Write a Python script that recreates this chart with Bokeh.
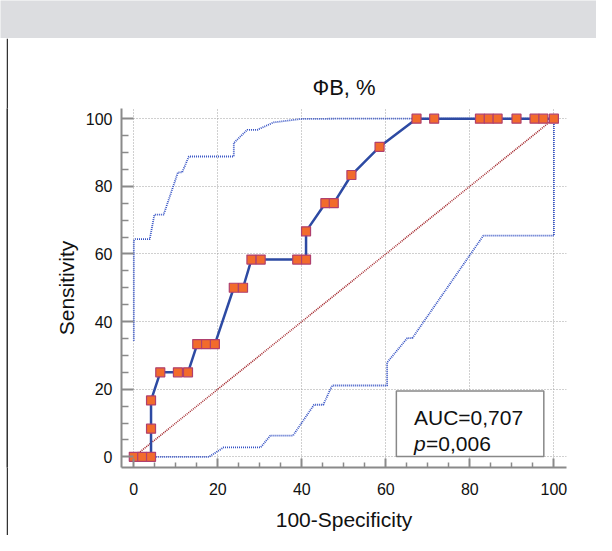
from bokeh.plotting import figure
from bokeh.layouts import row, column
from bokeh.models import Range1d, FixedTicker, Spacer
from bokeh.core.properties import value
from bokeh.embed import file_html
from bokeh.resources import INLINE

# ---------------- data ----------------
title_text = "ФВ, %"
x_label = "100-Specificity"
y_label = "Sensitivity"
major_ticks = [0, 20, 40, 60, 80, 100]
minor_ticks = [5, 10, 15, 25, 30, 35, 45, 50, 55, 65, 70, 75, 85, 90, 95]

roc_x = [0, 2.0, 4.1, 4.1, 4.1, 6.3, 10.5, 12.9, 15.1, 17.2, 19.3, 23.8, 26.0,
         28.0, 30.2, 38.9, 41.0, 41.0, 45.6, 47.6, 51.8, 58.5, 67.3, 71.5,
         82.4, 84.5, 86.6, 91.1, 95.4, 97.5, 100]
roc_y = [0, 0, 0, 8.33, 16.67, 25, 25, 25, 33.33, 33.33, 33.33, 50, 50,
         58.33, 58.33, 58.33, 58.33, 66.67, 75, 75, 83.33, 91.67, 100, 100,
         100, 100, 100, 100, 100, 100, 100]

upper_x = [0, 0, 0.4, 3.8, 4.9, 7.1, 10.5, 11.5, 13.1, 23.8, 23.8, 27.0, 29.4,
           33.3, 39.7, 50, 100]
upper_y = [34.3, 63.9, 64.4, 64.4, 71.6, 71.6, 84.1, 84.1, 88.8, 88.8, 92.8,
           96.7, 96.7, 98.9, 99.9, 100, 100]

lower_x = [0, 17.9, 21.4, 30.2, 32.5, 37.9, 42.9, 45.1, 47.2, 60.3, 60.3,
           65.1, 66.3, 83.2, 100, 100]
lower_y = [0, 0, 2.8, 2.8, 6.3, 6.3, 15.4, 15.4, 21.1, 21.1, 27.9, 35.1,
           35.1, 65.4, 65.4, 100]

diag_x = [0, 100]
diag_y = [0, 100]

auc_text = "AUC=0,707"
p_label = "p"
p_value = "=0,006"

FONT = "Liberation Sans"

# ---------------- main chart ----------------
p = figure(width=588, height=497,
           x_range=Range1d(-2.93, 103.0), y_range=Range1d(-3.15, 103.0),
           min_border_left=113, min_border_right=30,
           min_border_top=70, min_border_bottom=68,
           toolbar_location=None, output_backend="svg",
           outline_line_color=None, title=title_text)

p.title.text_font = FONT
p.title.text_font_size = "22px"
p.title.text_font_style = "normal"
p.title.align = "center"
p.title.offset = 4
p.title.standoff = 18
p.title.text_color = "#111111"

for ax in (p.xaxis[0], p.yaxis[0]):
    ax.ticker = FixedTicker(ticks=major_ticks, minor_ticks=minor_ticks)
    ax.axis_line_color = "#8a8a8a"
    ax.axis_line_width = 2
    ax.major_tick_line_color = "#8a8a8a"
    ax.major_tick_line_width = 2
    ax.minor_tick_line_color = "#8a8a8a"
    ax.minor_tick_line_width = 1.5
    ax.major_label_text_font = FONT
    ax.major_label_text_font_size = "16px"
    ax.major_label_text_color = "#111111"
    ax.axis_label_text_font = FONT
    ax.axis_label_text_font_size = "21px"
    ax.axis_label_text_font_style = "normal"
    ax.axis_label_text_color = "#111111"

p.xaxis.axis_label = x_label
p.yaxis.axis_label = y_label
p.xaxis.major_tick_in = 9
p.xaxis.major_tick_out = 0
p.xaxis.minor_tick_in = 5
p.xaxis.minor_tick_out = 0
p.yaxis.major_tick_in = 12
p.yaxis.major_tick_out = 0
p.yaxis.minor_tick_in = 7
p.yaxis.minor_tick_out = 0
p.xaxis.major_label_standoff = 15
p.xaxis.axis_label_standoff = 10
p.yaxis.major_label_standoff = 9
p.yaxis.axis_label_standoff = 5

p.grid.grid_line_color = "#a0a0a0"
p.grid.grid_line_dash = "1 2"
p.grid.grid_line_width = 1

# diagonal reference line
p.line(diag_x, diag_y, line_color="#a3262b", line_width=1.6, line_dash="1 1")
# confidence bounds
p.line(upper_x, upper_y, line_color="#3552c4", line_width=1.8, line_dash="1 1")
p.line(lower_x, lower_y, line_color="#3552c4", line_width=1.8, line_dash="1 1")
# ROC curve
p.line(roc_x, roc_y, line_color="#2d4aa3", line_width=2.5)
p.scatter(roc_x, roc_y, marker="square", size=9, fill_color="#f26b2c",
          line_color="#b0406e", line_width=1.2)

# AUC box
p.quad(left=[62.5], right=[97.6], bottom=[0.1], top=[19.5],
       fill_color="white", line_color="#888888", line_width=1.5)
p.text(x=[66.7], y=[11.5], text=[auc_text], text_font=value(FONT),
       text_font_size="21px", text_align="left", text_baseline="alphabetic",
       text_color="#111111")
p.text(x=[66.7], y=[3.9], text=[p_label], text_font=value(FONT),
       text_font_size="21px", text_font_style="italic", text_align="left",
       text_baseline="alphabetic", text_color="#111111")
p.text(x=[66.7], y=[3.9], text=[p_value], text_font=value(FONT), x_offset=12,
       text_font_size="21px", text_align="left", text_baseline="alphabetic",
       text_color="#111111")

# ---------------- header band and left rule ----------------
header = figure(width=596, height=38, x_range=Range1d(0, 1), y_range=Range1d(0, 1),
                x_axis_type=None, y_axis_type=None, min_border=0,
                toolbar_location=None, output_backend="svg",
                background_fill_color="#dcdde0", border_fill_color="#dcdde0",
                outline_line_color=None)

bar = figure(width=2, height=497, x_range=Range1d(0, 1), y_range=Range1d(0, 1),
             x_axis_type=None, y_axis_type=None, min_border=0,
             toolbar_location=None, output_backend="svg",
             background_fill_color="#333333", border_fill_color="#333333",
             outline_line_color=None)

layout = column(header, row(Spacer(width=6, height=497), bar, p))

open("out.html", "w").write(file_html(layout, INLINE))
